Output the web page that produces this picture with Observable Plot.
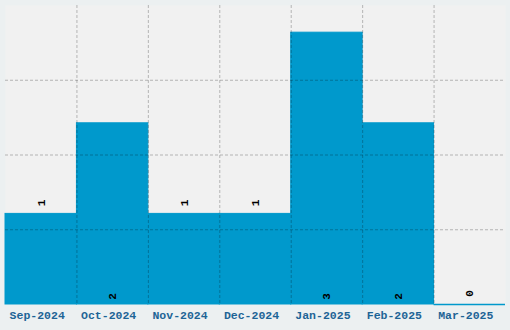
<!DOCTYPE html>
<html>
<head>
<meta charset="utf-8">
<script src="https://cdn.jsdelivr.net/npm/d3@7"></script>
<script src="https://cdn.jsdelivr.net/npm/@observablehq/plot@0.6"></script>
<style>
  html, body { margin: 0; padding: 0; background: #ecf0f1; }
</style>
</head>
<body>
<div id="chart"></div>
<script>
const months = ["Sep-2024", "Oct-2024", "Nov-2024", "Dec-2024", "Jan-2025", "Feb-2025", "Mar-2025"];
const counts = [1, 2, 1, 1, 3, 2, 0];
const yMax = 3.3;
const gridYValues = [0.825, 1.65, 2.475];

const data = months.map((m, i) => ({i, m, v: counts[i]}));
const gridStyle = {stroke: "#000", strokeOpacity: 0.25, strokeDasharray: "3,2"};
const mono = "'Liberation Mono', 'DejaVu Sans Mono', monospace";

const chart = Plot.plot({
  width: 510,
  height: 330,
  marginTop: 5,
  marginLeft: 5,
  marginRight: 5,
  marginBottom: 26,
  style: {background: "#ecf0f1", fontFamily: mono},
  x: {domain: [0, months.length], axis: null},
  y: {domain: [0, yMax], axis: null},
  marks: [
    Plot.frame({fill: "#f1f1f1", stroke: null}),
    Plot.rectY(data, {x1: "i", x2: d => d.i + 1, y: "v", fill: "#0099cc", stroke: "#0099cc", strokeWidth: 1}),
    Plot.ruleY(data.filter(d => d.v === 0), {x1: "i", x2: d => d.i + 1, y: "v", stroke: "#0099cc", strokeWidth: 1.5}),
    Plot.ruleX(d3.range(1, months.length), gridStyle),
    Plot.ruleY(gridYValues, gridStyle),
    Plot.text(data.filter(d => d.v <= 1), {
      x: d => d.i + 0.5, y: "v", text: d => String(d.v), rotate: -90,
      dy: -11, fontSize: 11, fontWeight: "bold", fill: "#000", fontFamily: mono
    }),
    Plot.text(data.filter(d => d.v > 1), {
      x: d => d.i + 0.5, y: () => 0, text: d => String(d.v), rotate: -90,
      dy: -8, fontSize: 11, fontWeight: "bold", fill: "#000", fontFamily: mono
    }),
    Plot.axisX(d3.range(months.length).map(i => i + 0.5), {
      tickFormat: d => months[Math.floor(d)], label: null,
      tickSize: 0, tickPadding: 6, dx: -4,
      fontSize: 11.5, fontWeight: "bold", fill: "#1e6496", fontFamily: mono
    })
  ]
});
document.getElementById("chart").appendChild(chart);
</script>
</body>
</html>
